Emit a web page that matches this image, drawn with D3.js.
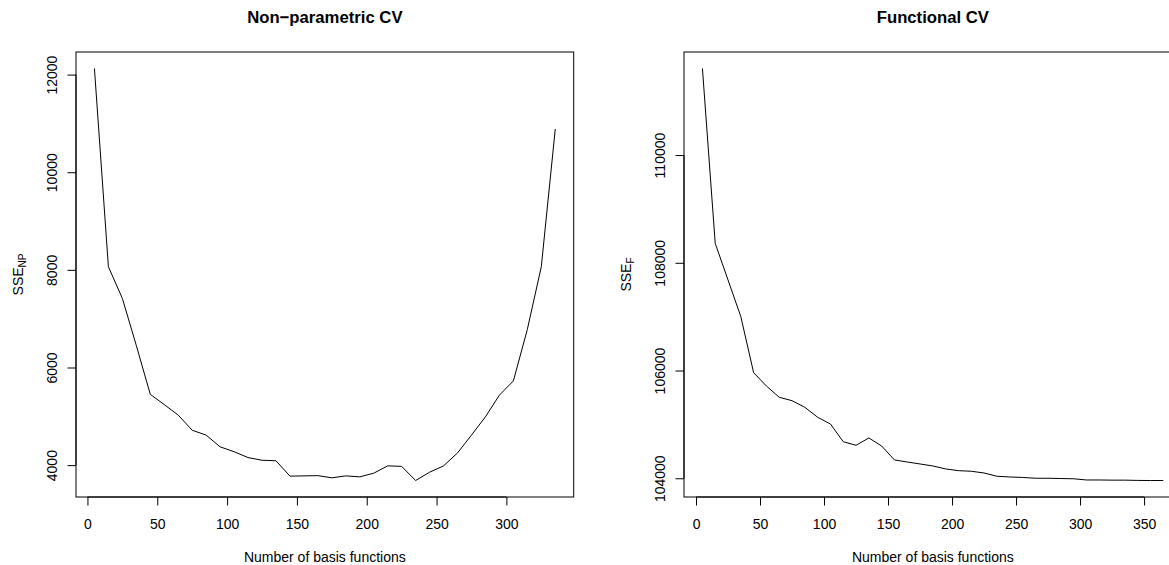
<!DOCTYPE html>
<html>
<head>
<meta charset="utf-8">
<script src="https://cdn.jsdelivr.net/npm/d3@7"></script>
<style>
  body { margin: 0; background: #fff; }
  text { font-family: "Liberation Sans", Arial, Helvetica, sans-serif; fill: #000; }
</style>
</head>
<body>
<script>

// number of basis functions
var basisNP = d3.range(5, 336, 10);   // 5, 15, ..., 335
var basisF = d3.range(5, 366, 10);    // 5, 15, ..., 365

// Non-parametric CV errors
var sseNP = [12125, 8065, 7415, 6450, 5450, 5240, 5025, 4715, 4615, 4375,
             4275, 4155, 4100, 4090, 3775, 3780, 3785, 3740, 3780, 3760,
             3835, 3985, 3975, 3685, 3855, 3985, 4250, 4615, 4990, 5435,
             5725, 6780, 8065, 10885];

// Functional CV errors
var sseF = [111607, 108360, 107680, 107000, 105959, 105712, 105503, 105440, 105317, 105132,
            105007, 104679, 104612, 104748, 104599, 104340, 104302, 104265, 104228, 104173,
            104141, 104130, 104098, 104037, 104024, 104015, 104000, 104000, 103995, 103990,
            103968, 103968, 103965, 103965, 103960, 103958, 103958];

// tick values
var xTicksNP = [0, 50, 100, 150, 200, 250, 300];
var yTicksNP = [4000, 6000, 8000, 10000, 12000];
var xTicksF = [0, 50, 100, 150, 200, 250, 300, 350];
var yTicksF = [104000, 106000, 108000, 110000];

var W = 1169, H = 565;
var plotTop = 52, plotBottom = 497;  // note: "top" is taken by window.top
var plotW = 497.7;

var svg = d3.select("body")
    .append("svg")
    .attr("width", W)
    .attr("height", H);

// R-style axis range: data range padded by 4% on each side
function padded(vals) {
    var ext = d3.extent(vals);
    var r = ext[1] - ext[0];
    return [ext[0] - 0.04 * r, ext[1] + 0.04 * r];
}

function drawPanel(left, xs, ys, xTicks, yTicks, title, ySub) {
    var xScale = d3.scaleLinear()
        .domain(padded(xs))
        .range([left, left + plotW]);

    var yScale = d3.scaleLinear()
        .domain(padded(ys))
        .range([plotBottom, plotTop]);

    var g = svg.append("g");

    // X axis
    var xAxis = d3.axisBottom(xScale)
        .tickValues(xTicks)
        .tickFormat(d3.format("d"))
        .tickSizeOuter(0)
        .tickSizeInner(8.5);

    var gx = g.append("g")
        .attr("transform", "translate(0," + plotBottom + ")")
        .call(xAxis);
    gx.select(".domain").remove();
    gx.append("line")
        .attr("x1", xScale(xTicks[0]))
        .attr("x2", xScale(xTicks[xTicks.length - 1]))
        .attr("stroke", "#000");
    gx.selectAll(".tick line").attr("stroke", "#000");
    gx.selectAll(".tick text")
        .attr("y", 32)
        .attr("dy", 0)
        .attr("font-size", 14)
        .attr("font-family", "Liberation Sans, Arial, sans-serif");

    // Y axis, labels turned like R's default
    var yAxis = d3.axisLeft(yScale)
        .tickValues(yTicks)
        .tickFormat(d3.format("d"))
        .tickSizeOuter(0)
        .tickSizeInner(8.5);

    var gy = g.append("g")
        .attr("transform", "translate(" + left + ",0)")
        .call(yAxis);
    gy.select(".domain").remove();
    gy.append("line")
        .attr("y1", yScale(yTicks[0]))
        .attr("y2", yScale(yTicks[yTicks.length - 1]))
        .attr("stroke", "#000");
    gy.selectAll(".tick line").attr("stroke", "#000");
    gy.selectAll(".tick text")
        .attr("transform", "rotate(-90)")
        .attr("text-anchor", "middle")
        .attr("x", 0)
        .attr("y", -19)
        .attr("dy", 0)
        .attr("font-size", 14)
        .attr("font-family", "Liberation Sans, Arial, sans-serif");

    // box around plot region
    g.append("rect")
        .attr("x", left)
        .attr("y", plotTop)
        .attr("width", plotW)
        .attr("height", plotBottom - plotTop)
        .attr("fill", "none")
        .attr("stroke", "#000");

    // the curve
    var line = d3.line()
        .x(function (d, i) { return xScale(xs[i]); })
        .y(function (d) { return yScale(d); });

    g.append("path")
        .datum(ys)
        .attr("d", line)
        .attr("fill", "none")
        .attr("stroke", "#000")
        .attr("stroke-width", 1);

    // titles
    g.append("text")
        .attr("x", left + plotW / 2)
        .attr("y", plotTop - 29)
        .attr("text-anchor", "middle")
        .attr("font-size", 16.7)
        .attr("font-weight", "bold")
        .text(title);

    g.append("text")
        .attr("x", left + plotW / 2)
        .attr("y", plotBottom + 65)
        .attr("text-anchor", "middle")
        .attr("font-size", 14)
        .text("Number of basis functions");

    var ylab = g.append("text")
        .attr("transform", "translate(" + (left - 53) + "," + ((plotTop + plotBottom) / 2) + ") rotate(-90)")
        .attr("text-anchor", "middle")
        .attr("font-size", 14);
    ylab.append("tspan").text("SSE");
    ylab.append("tspan")
        .attr("font-size", 10)
        .attr("dy", 3)
        .text(ySub);
}

drawPanel(76, basisNP, sseNP, xTicksNP, yTicksNP, "Non\u2212parametric CV", "NP");
drawPanel(684, basisF, sseF, xTicksF, yTicksF, "Functional CV", "F");

</script>
</body>
</html>
